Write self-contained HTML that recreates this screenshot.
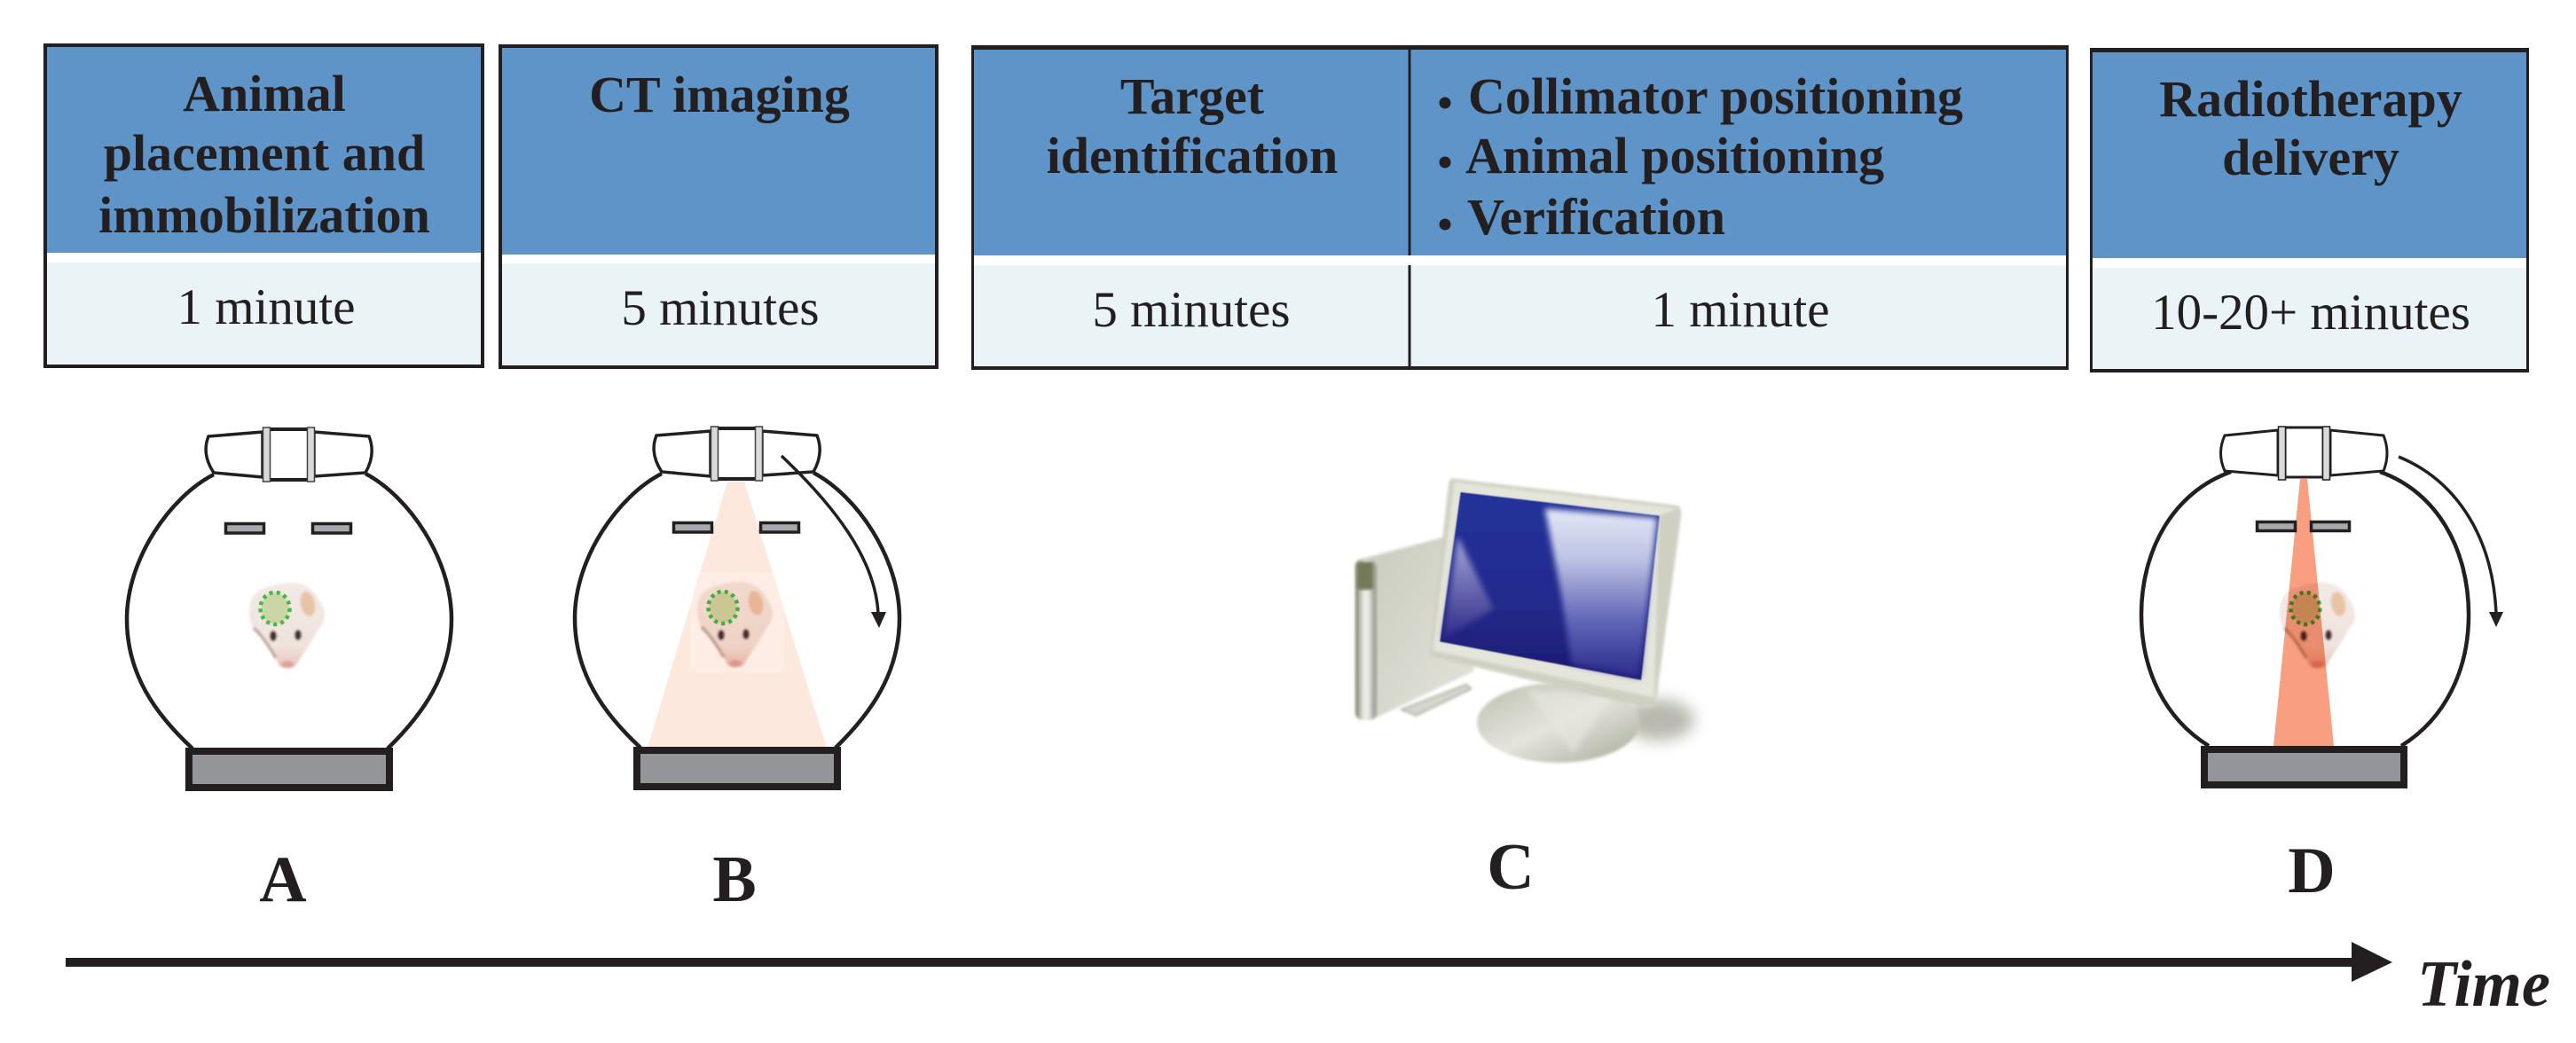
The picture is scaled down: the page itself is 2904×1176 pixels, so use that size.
<!DOCTYPE html>
<html><head><meta charset="utf-8"><title>Timeline</title>
<style>html,body{margin:0;padding:0;background:#fff}svg{display:block}
text{font-family:"Liberation Serif",serif;fill:#231f20}
.h{font-weight:bold;font-size:58px}.r{font-size:57px}.l{font-weight:bold;font-size:74px;text-anchor:middle}.c{text-anchor:middle}</style></head>
<body>
<svg xmlns="http://www.w3.org/2000/svg" width="2904" height="1176" viewBox="0 0 2904 1176">
<defs>
<filter id="b1" x="-20%" y="-20%" width="140%" height="140%"><feGaussianBlur stdDeviation="1.2"/></filter>
<filter id="b2" x="-20%" y="-20%" width="140%" height="140%"><feGaussianBlur stdDeviation="5"/></filter>
<filter id="b4" x="-20%" y="-20%" width="140%" height="140%"><feGaussianBlur stdDeviation="10"/></filter>
<filter id="b3" x="-50%" y="-50%" width="200%" height="200%"><feGaussianBlur stdDeviation="26"/></filter>
<linearGradient id="snout" x1="0" y1="0" x2="0" y2="1"><stop offset="0" stop-color="#f2eae6"/><stop offset=".75" stop-color="#f0e2dc"/><stop offset="1" stop-color="#e8c2b8"/></linearGradient>
<linearGradient id="scr" x1="0" y1="0" x2="0" y2="1"><stop offset="0" stop-color="#24339a"/><stop offset=".6" stop-color="#232a8c"/><stop offset="1" stop-color="#1d1a70"/></linearGradient>
<linearGradient id="gl" x1="0" y1="0" x2="0" y2="1"><stop offset="0" stop-color="#e4e8f6"/><stop offset=".3" stop-color="#bcc3e4"/><stop offset=".65" stop-color="#6468b8"/><stop offset="1" stop-color="#2a2a8c"/></linearGradient>
<linearGradient id="gl2" x1="0" y1="0" x2="0" y2="1"><stop offset="0" stop-color="#a5a6d8"/><stop offset="1" stop-color="#2d2a88"/></linearGradient>
<linearGradient id="tw" x1="0" y1="0" x2="1" y2="0"><stop offset="0" stop-color="#70745e"/><stop offset=".3" stop-color="#d8d9d0"/><stop offset=".55" stop-color="#f4f4f0"/><stop offset="1" stop-color="#8a8c7c"/></linearGradient>
<linearGradient id="st" x1="0" y1="0" x2="1" y2="1"><stop offset="0" stop-color="#bdbeb0"/><stop offset=".5" stop-color="#e4e4dc"/><stop offset="1" stop-color="#a8a99a"/></linearGradient>
<linearGradient id="sd" x1="0" y1="0" x2="1" y2="1"><stop offset="0" stop-color="#c9cabd"/><stop offset="1" stop-color="#e3e3da"/></linearGradient>
<g id="mouse">
<g filter="url(#b1)">
<path d="M324 657C342 655 354 664 360 677C368 688 368 700 360 708C352 722 340 740 333 751Q324 756 315 751C310 738 298 722 287 712C279 698 279 680 287 670C298 660 312 659 324 657Z" fill="url(#snout)"/>
<path d="M286 708C295 716 303 728 311 742" stroke="#bfa99f" stroke-width="3.5" fill="none"/>
<ellipse cx="347" cy="681" rx="8" ry="14" fill="#e9c3a6" transform="rotate(-12 347 681)"/>
<ellipse cx="308" cy="717" rx="4" ry="6" fill="#4a2e2e"/>
<ellipse cx="336" cy="716" rx="4" ry="6" fill="#4a2e2e"/>
<ellipse cx="324" cy="749" rx="7" ry="4" fill="#dfa39c"/>
<ellipse cx="310" cy="686" rx="16" ry="18" fill="#cbd6a6"/>
</g>
<ellipse cx="310" cy="686" rx="16.5" ry="18" fill="none" stroke="#48b845" stroke-width="4.5" stroke-dasharray="4 4.3"/>
</g>
<g id="gantry">
<path d="M241 535C192 560 143 630 143 698C143 760 175 805 217 844" fill="none" stroke="#231f20" stroke-width="4.5"/>
<path d="M412 534C461 560 509 630 509 698C509 760 477 805 437 844" fill="none" stroke="#231f20" stroke-width="4.5"/>
<path d="M235 492L296 487V538L241 533Q227 512 235 492Z" fill="#fff" stroke="#231f20" stroke-width="3.5"/>
<path d="M416 492L354 487V537L412 533Q424 512 416 492Z" fill="#fff" stroke="#231f20" stroke-width="3.5"/>
<rect x="301" y="484" width="49" height="57" fill="#fff" stroke="#231f20" stroke-width="4"/>
<rect x="296.500" y="482" width="8" height="61" fill="#d9dadb" stroke="#404042" stroke-width="1.500"/>
<rect x="346.500" y="482" width="8" height="61" fill="#d9dadb" stroke="#404042" stroke-width="1.500"/>
<rect x="254.500" y="590.500" width="43" height="10.500" fill="#a7a9ac" stroke="#231f20" stroke-width="3.500"/>
<rect x="352.500" y="590.500" width="43" height="10.500" fill="#a7a9ac" stroke="#231f20" stroke-width="3.500"/>
<rect x="213" y="847" width="226" height="41" fill="#939598" stroke="#231f20" stroke-width="8"/>
</g>
</defs>
<rect width="2904" height="1176" fill="#fff"/>

<!-- Box 1 -->
<rect x="49" y="49" width="497" height="366" fill="#231f20"/>
<rect x="53" y="53" width="489" height="232" fill="#5f94c8"/>
<rect x="53" y="285" width="489" height="11" fill="#fff"/>
<rect x="53" y="296" width="489" height="115" fill="#eaf3f5"/>
<text class="h c" x="298" y="125">Animal</text>
<text class="h c" x="298" y="192">placement and</text>
<text class="h c" x="298" y="262">immobilization</text>
<text class="r c" x="300" y="365">1 minute</text>

<!-- Box 2 -->
<rect x="562" y="50" width="496" height="366" fill="#231f20"/>
<rect x="566" y="54" width="488" height="233" fill="#5f94c8"/>
<rect x="566" y="287" width="488" height="10" fill="#fff"/>
<rect x="566" y="297" width="488" height="115" fill="#eaf3f5"/>
<text class="h c" x="811" y="126">CT imaging</text>
<text class="r c" x="812" y="366">5 minutes</text>

<!-- Box 3 -->
<rect x="1095" y="51" width="1237" height="366" fill="#231f20"/>
<rect x="1098" y="56" width="1231" height="232" fill="#5f94c8"/>
<rect x="1098" y="288" width="1231" height="11" fill="#fff"/>
<rect x="1098" y="299" width="1231" height="114" fill="#eaf3f5"/>
<rect x="1587.500" y="51" width="3" height="237" fill="#231f20"/>
<rect x="1587.500" y="299" width="3" height="118" fill="#231f20"/>
<text class="h c" x="1344" y="128">Target</text>
<text class="h c" x="1344" y="195">identification</text>
<circle cx="1629" cy="116" r="6.500" fill="#231f20"/>
<circle cx="1629" cy="183" r="6.500" fill="#231f20"/>
<circle cx="1629" cy="253" r="6.500" fill="#231f20"/>
<text class="h" x="1655" y="128">Collimator positioning</text>
<text class="h" x="1652" y="195">Animal positioning</text>
<text class="h" x="1654" y="264">Verification</text>
<text class="r c" x="1343" y="368">5 minutes</text>
<text class="r c" x="1962" y="368">1 minute</text>

<!-- Box 4 -->
<rect x="2356" y="54" width="495" height="366" fill="#231f20"/>
<rect x="2359" y="59" width="489" height="232" fill="#5f94c8"/>
<rect x="2359" y="291" width="489" height="11" fill="#fff"/>
<rect x="2359" y="302" width="489" height="114" fill="#eaf3f5"/>
<text class="h c" x="2605" y="131">Radiotherapy</text>
<text class="h c" x="2605" y="197">delivery</text>
<text class="r c" x="2605" y="371">10-20+ minutes</text>

<!-- A -->
<use href="#mouse"/>
<use href="#gantry"/>

<!-- B -->
<polygon points="820,543 839,543 932,843 730,843" fill="#fde8dd"/>
<polygon points="789,645 871,645 884,688 884,758 778,758 778,683" fill="#feede5"/>
<g transform="translate(505,-1)"><use href="#mouse" style="mix-blend-mode:multiply"/><use href="#gantry"/></g>
<path d="M881 514C940 570 987 630 990 692" fill="none" stroke="#231f20" stroke-width="3.500"/>
<polygon points="982,690 999,690 991,708" fill="#231f20"/>

<!-- C computer -->
<g transform="translate(1480,510) scale(.33333)">
<ellipse cx="1170" cy="905" rx="120" ry="70" fill="#8a8a7a" opacity=".6" filter="url(#b3)"/>
<path d="M145 375Q150 362 175 358L450 285L545 740L230 890Q165 915 145 880Z" fill="url(#sd)" filter="url(#b2)"/>
<rect x="145" y="365" width="70" height="540" rx="22" fill="url(#tw)" filter="url(#b2)"/>
<rect x="150" y="370" width="55" height="95" rx="10" fill="#737a5a" filter="url(#b2)"/>
<path d="M300 870L520 785L535 800L350 890Z" fill="#d6d7cc" stroke="#a5a698" stroke-width="5" filter="url(#b2)"/>
<ellipse cx="830" cy="915" rx="275" ry="135" fill="url(#st)" filter="url(#b2)"/>
<path d="M720 800L1000 840L880 1020Z" fill="#e8e8e2" opacity=".6" filter="url(#b4)"/>
<path d="M470 88L1235 180Q1250 190 1245 220L1160 845Q1150 870 1120 862L400 690Q390 680 398 660L460 100Z" fill="#cfd0c2" filter="url(#b2)"/>
<path d="M478 100L1235 190L1170 215L500 135L430 640L1110 770L1170 215L1155 830L405 670Z" fill="#ecece4" opacity=".75" filter="url(#b2)"/>
<polygon points="500,135 1172,215 1110,770 430,640" fill="url(#scr)" filter="url(#b1)"/>
<polygon points="785,190 1165,222 1105,762 875,715 840,480" fill="url(#gl)" filter="url(#b4)"/>
<polygon points="490,285 610,530 440,630" fill="url(#gl2)" filter="url(#b4)"/>
</g>

<!-- D -->
<use href="#mouse" transform="translate(2289,0)"/>
<polygon points="2593,540 2601,540 2631,841 2563,841" fill="#f79f80" style="mix-blend-mode:multiply"/>
<path d="M2515 532C2450 555 2414 620 2414 693C2414 755 2440 810 2490 841" fill="none" stroke="#231f20" stroke-width="4.500"/>
<path d="M2683 532C2748 555 2783 620 2783 693C2783 755 2757 810 2707 841" fill="none" stroke="#231f20" stroke-width="4.500"/>
<path d="M2508 491L2568 485V536L2508 531Q2499 511 2508 491Z" fill="#fff" stroke="#231f20" stroke-width="3"/>
<path d="M2687 491L2627 485V536L2687 531Q2695 511 2687 491Z" fill="#fff" stroke="#231f20" stroke-width="3"/>
<rect x="2576" y="482" width="43" height="56" fill="#fff" stroke="#231f20" stroke-width="3"/>
<rect x="2568.500" y="481" width="8" height="60" fill="#d9dadb" stroke="#231f20" stroke-width="1.500"/>
<rect x="2618.500" y="481" width="8" height="60" fill="#d9dadb" stroke="#231f20" stroke-width="1.500"/>
<rect x="2544.500" y="588.500" width="43" height="10" fill="#a7a9ac" stroke="#231f20" stroke-width="3.500"/>
<rect x="2605.500" y="588.500" width="43" height="10" fill="#a7a9ac" stroke="#231f20" stroke-width="3.500"/>
<rect x="2485" y="845" width="225" height="40" fill="#939598" stroke="#231f20" stroke-width="8"/>
<path d="M2704 515C2765 540 2810 600 2814 692" fill="none" stroke="#231f20" stroke-width="3.500"/>
<polygon points="2806,690 2822,690 2814,707" fill="#231f20"/>

<!-- Letters -->
<text class="l" x="319" y="1016">A</text>
<text class="l" x="828" y="1016">B</text>
<text class="l" x="1703" y="1002">C</text>
<text class="l" x="2606" y="1006">D</text>

<!-- Time arrow -->
<rect x="74" y="1080" width="2580" height="10" fill="#231f20"/>
<polygon points="2651,1062 2697,1085 2651,1107" fill="#231f20"/>
<text x="2725" y="1134" font-size="74" font-weight="bold" font-style="italic" textLength="150" lengthAdjust="spacingAndGlyphs">Time</text>
</svg>
</body></html>
